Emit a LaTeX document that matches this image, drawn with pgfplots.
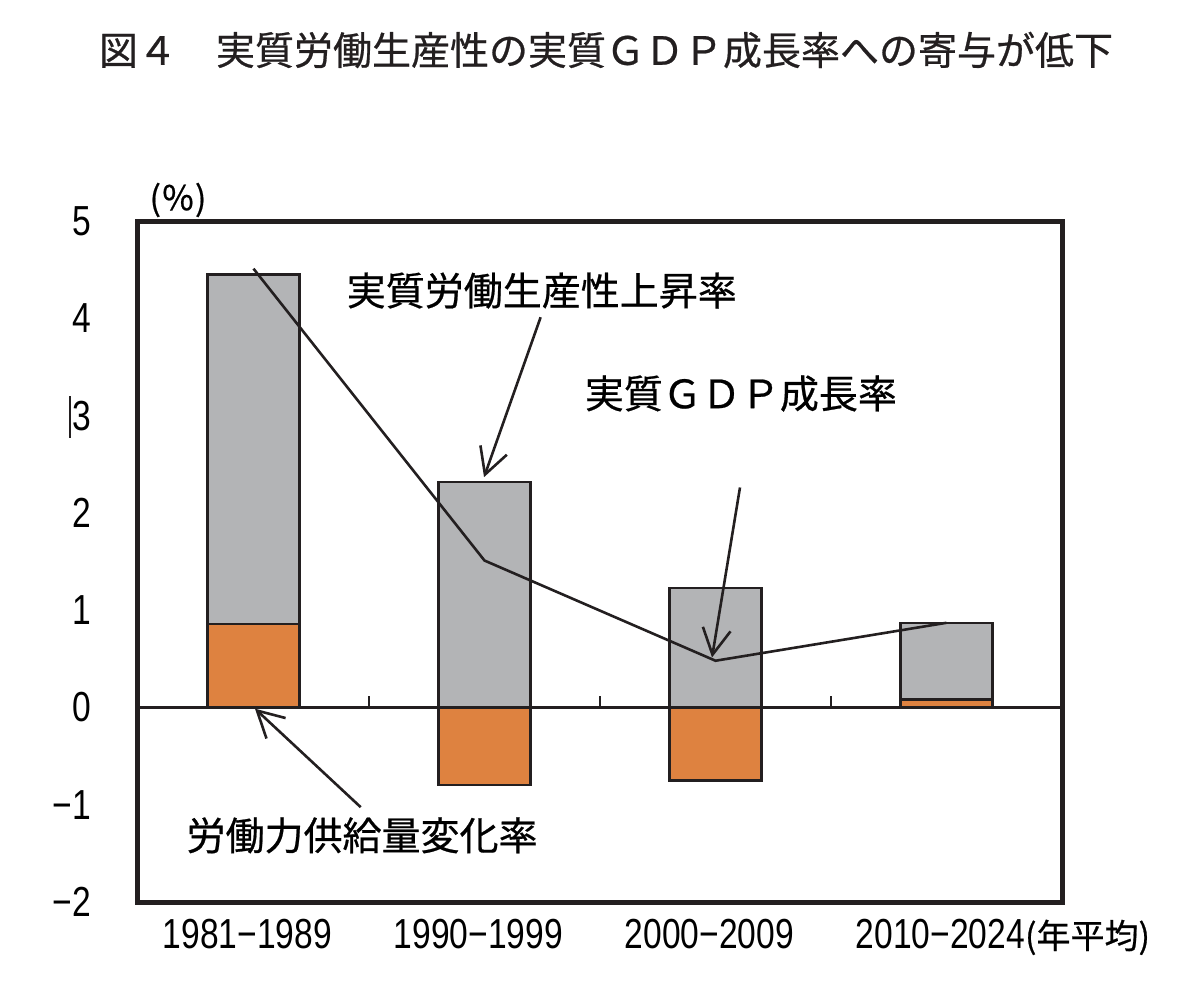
\documentclass[border=0pt]{standalone}
\usepackage{pgfplots}
\pgfplotsset{compat=1.18}
\usepackage{fontspec}
\usetikzlibrary{arrows.meta}
\setmainfont{Liberation Sans}
\newfontfamily\cjk[FakeBold=0.6]{Noto Sans CJK JP}
\newfontfamily\numf[FakeStretch=0.8]{Liberation Sans}
\definecolor{barGray}{RGB}{179,180,182}
\definecolor{barOrange}{RGB}{222,130,64}
\definecolor{edge}{RGB}{35,31,32}
\newcommand{\jp}{\fontsize{19.5pt}{23pt}\selectfont\cjk}
\newcommand{\nm}{\fontsize{21pt}{24pt}\selectfont\numf}
\begin{document}
\begin{tikzpicture}
\begin{axis}[
  at={(0,0)}, anchor=south west,
  scale only axis,
  width=462pt, height=340.5pt,
  xmin=-0.5, xmax=3.5,
  ymin=-2, ymax=5,
  axis line style={line width=2.5pt, edge},
  xtick={0,1,2,3},
  xticklabels={1981−1989,1990−1999,2000−2009,{2010−2024\rlap{\fontsize{17pt}{20pt}\selectfont\cjk(年平均)}}},
  ytick={-2,-1,0,1,2,3,4,5},
  yticklabels={−2,−1,0,1,2,3,4,5},
  major tick length=0pt,
  tick style={draw=none},
  xticklabel style={font=\nm, anchor=north, yshift=-5pt, xshift=-3pt},
  yticklabel style={font=\nm, anchor=east, xshift=-20pt},
]
% productivity contribution (drawn from zero to its top)
\addplot[ybar, bar width=46pt, bar shift=0pt, fill=barGray, draw=edge, line width=1.2pt]
  coordinates {(0,4.45) (1,2.32) (2,1.23) (3,0.87)};
% labour supply change
\addplot[ybar, bar width=46pt, bar shift=0pt, fill=barOrange, draw=edge, line width=1.2pt]
  coordinates {(0,0.86) (1,-0.80) (2,-0.75) (3,0.08)};
% zero line
\draw[line width=1.2pt, edge] (axis cs:-0.5,0) -- (axis cs:3.5,0);
\draw[line width=1.2pt, edge] (axis cs:0.5,0) -- (axis cs:0.5,0.115);
\draw[line width=1.2pt, edge] (axis cs:1.5,0) -- (axis cs:1.5,0.115);
\draw[line width=1.2pt, edge] (axis cs:2.5,0) -- (axis cs:2.5,0.115);
% real GDP growth
\addplot[edge, line width=1.3pt, mark=none]
  coordinates {(0,4.51) (1,1.51) (2,0.48) (3,0.87)};
% annotations
\node[font=\jp] at (axis cs:1.248,4.285) {実質労働生産性上昇率};
\node[font=\jp] at (axis cs:2.110,3.227) {実質ＧＤＰ成長率};
\node[font=\jp] at (axis cs:0.470,-1.315) {労働力供給量変化率};
\draw[line width=1.3pt, edge, -{Straight Barb[length=13pt,width=14pt]}]
  (axis cs:1.243,4.011) -- (axis cs:0.998,2.367);
\draw[line width=1.3pt, edge, -{Straight Barb[length=13pt,width=14pt]}]
  (axis cs:2.106,2.261) -- (axis cs:1.985,0.514);
\draw[line width=1.3pt, edge, -{Straight Barb[length=13pt,width=14pt]}]
  (axis cs:0.464,-1.025) -- (axis cs:0.0065,-0.013);
\end{axis}
% title and unit
\node[font=\jp, text=edge] at (234pt,426pt) {図４　実質労働生産性の実質ＧＤＰ成長率への寄与が低下};
\node[font={\fontsize{17pt}{20pt}\selectfont\cjk}] at (20pt,351pt) {(％)};
\draw[line width=0.6pt, edge] (-34pt,253pt) -- (-34pt,232pt);
\path (-69pt,-50.5pt) rectangle (531pt,451pt);
\end{tikzpicture}
\end{document}
